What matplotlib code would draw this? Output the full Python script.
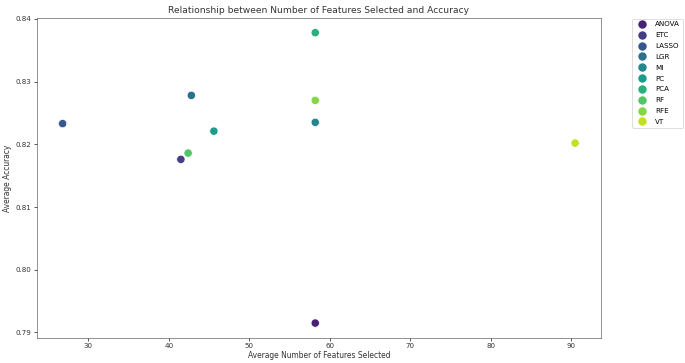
import matplotlib
matplotlib.use("Agg")
import matplotlib.pyplot as plt
import pandas as pd
import seaborn as sns

# feature selection methods and their averaged results
methods = ["ANOVA", "ETC", "LASSO", "LGR", "MI", "PC", "PCA", "RF", "RFE", "VT"]
avg_features = [58.2, 41.5, 26.8, 42.8, 58.2, 45.6, 58.2, 42.4, 58.2, 90.5]
avg_accuracy = [0.7915, 0.8176, 0.8233, 0.8278, 0.8235, 0.8221, 0.8378, 0.8186, 0.8270, 0.8202]

df = pd.DataFrame({
    "Method": methods,
    "Average Number of Features Selected": avg_features,
    "Average Accuracy": avg_accuracy,
})

dpi = 57
fig = plt.figure(figsize=(685 / dpi, 363 / dpi), dpi=dpi)
ax = fig.add_axes([0.054, 0.070, 0.823, 0.880])

sns.scatterplot(data=df, x="Average Number of Features Selected", y="Average Accuracy",
                hue="Method", palette="viridis", s=110, ax=ax)

ax.set_title("Relationship between Number of Features Selected and Accuracy", fontsize=11.5, color="#333333")
ax.set_xlabel(ax.get_xlabel(), fontsize=9.5, labelpad=2, color="#333333")
ax.set_ylabel(ax.get_ylabel(), fontsize=9.5, color="#333333")
ax.tick_params(labelsize=9, labelcolor="#333333")
for sp in ax.spines.values():
    sp.set_color("#555555")
ax.legend(bbox_to_anchor=(1.05, 1.01), loc="upper left", fontsize=9, labelspacing=0.68,
          markerscale=1.1)

fig.savefig("out.png", dpi=dpi)
